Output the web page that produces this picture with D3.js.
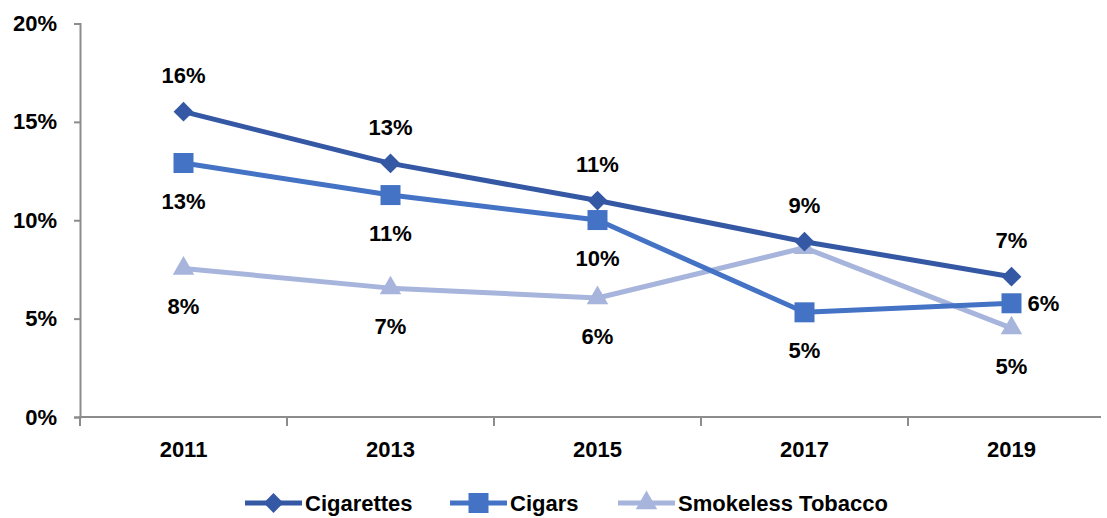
<!DOCTYPE html>
<html>
<head>
<meta charset="utf-8">
<script src="https://cdn.jsdelivr.net/npm/d3@7"></script>
<style>
  body { margin: 0; background: #fff; }
  svg text { font-family: "Liberation Sans", Arial, sans-serif; font-weight: bold; fill: #000; }
</style>
</head>
<body>
<div id="chart"></div>
<script>
// data
var years = ["2011", "2013", "2015", "2017", "2019"];
var cigarettes = [15.52, 12.89, 11.0, 8.91, 7.13];
var cigars = [12.91, 11.28, 10.01, 5.32, 5.78];
var smokeless = [7.55, 6.55, 6.05, 8.6, 4.52];
var yTicks = [0, 5, 10, 15, 20];
var seriesNames = ["Cigarettes", "Cigars", "Smokeless Tobacco"];
// label placement per point: "above", "below", "right" or null (no label)
var cigaretteLabels = ["above", "above", "above", "above", "above"];
var cigarLabels = ["below", "below", "below", "below", "right"];
var smokelessLabels = ["below", "below", "below", null, "below"];

var width = 1107, height = 518;

var svg = d3.select("#chart").append("svg")
    .attr("width", width)
    .attr("height", height);

var x = d3.scaleBand()
    .domain(years)
    .range([80, 1115]);

var y = d3.scaleLinear()
    .domain([0, 20])
    .range([417, 23.5]);

var axisColor = "#8c8c8c";

// y axis
var yAxis = svg.append("g")
    .attr("transform", "translate(80,0)")
    .call(d3.axisLeft(y).tickValues(yTicks).tickSize(6).tickPadding(17)
      .tickFormat(function(d) { return d + "%"; }));
yAxis.select(".domain").attr("stroke", axisColor).attr("stroke-width", 2);
yAxis.selectAll(".tick line").attr("stroke", axisColor).attr("stroke-width", 2);
yAxis.selectAll("text").style("font-size", "22px");

// x axis: labels centered in bands, tick marks at band boundaries
var xAxis = svg.append("g")
    .attr("transform", "translate(0,417)")
    .call(d3.axisBottom(x).tickSize(0).tickPadding(24));
xAxis.select(".domain").remove();
xAxis.selectAll("text").style("font-size", "22px");

svg.append("line")
    .attr("x1", 79).attr("x2", 1101)
    .attr("y1", y(0)).attr("y2", y(0))
    .attr("stroke", axisColor).attr("stroke-width", 2);

svg.append("g").selectAll("line")
    .data(years)
    .enter().append("line")
    .attr("x1", function(d) { return x(d); })
    .attr("x2", function(d) { return x(d); })
    .attr("y1", y(0))
    .attr("y2", y(0) + 9)
    .attr("stroke", axisColor)
    .attr("stroke-width", 2);

var series = [
  { name: seriesNames[0], values: cigarettes, labels: cigaretteLabels, color: "#3458a4", symbol: d3.symbolDiamond2, size: 250 },
  { name: seriesNames[1], values: cigars, labels: cigarLabels, color: "#4472c4", symbol: d3.symbolSquare, size: 400 },
  { name: seriesNames[2], values: smokeless, labels: smokelessLabels, color: "#a7b5dd", symbol: d3.symbolTriangle, size: 200 }
];

function cx(i) { return x(years[i]) + x.bandwidth() / 2; }

var line = d3.line()
    .x(function(d, i) { return cx(i); })
    .y(function(d) { return y(d); });

// draw the lighter series first so the darker ones sit on top
var order = [2, 1, 0];
order.forEach(function(k) {
  var s = series[k];
  var g = svg.append("g").attr("class", "series");

  g.append("path")
      .datum(s.values)
      .attr("d", line)
      .attr("fill", "none")
      .attr("stroke", s.color)
      .attr("stroke-width", 5)
      .attr("stroke-linejoin", "round");

  g.selectAll(".marker")
      .data(s.values)
      .enter().append("path")
      .attr("class", "marker")
      .attr("d", d3.symbol().type(s.symbol).size(s.size))
      .attr("transform", function(d, i) {
        return "translate(" + cx(i) + "," + y(d) + ")";
      })
      .attr("fill", s.color);
});

// data labels
series.forEach(function(s) {
  svg.append("g").selectAll("text")
      .data(s.values.map(function(v, i) { return { v: v, i: i, pos: s.labels[i] }; })
        .filter(function(d) { return d.pos; }))
      .enter().append("text")
      .attr("x", function(d) {
        return d.pos === "right" ? cx(d.i) + 16 : cx(d.i);
      })
      .attr("y", function(d) {
        if (d.pos === "above") return y(d.v) - 36;
        if (d.pos === "below") return y(d.v) + 38;
        return y(d.v);
      })
      .attr("dy", "0.35em")
      .attr("text-anchor", function(d) { return d.pos === "right" ? "start" : "middle"; })
      .style("font-size", "22px")
      .text(function(d) { return Math.round(d.v) + "%"; });
});

// legend
var legendStarts = [245, 450, 618];
var legend = svg.append("g").attr("transform", "translate(0,503)");
series.forEach(function(s, i) {
  var g = legend.append("g").attr("transform", "translate(" + legendStarts[i] + ",0)");
  g.append("line")
      .attr("x1", 0).attr("x2", 57)
      .attr("y1", 0).attr("y2", 0)
      .attr("stroke", s.color)
      .attr("stroke-width", 5);
  g.append("path")
      .attr("d", d3.symbol().type(s.symbol).size(s.size))
      .attr("transform", "translate(28.5,0)")
      .attr("fill", s.color);
  g.append("text")
      .attr("x", 60)
      .attr("y", 0)
      .attr("dy", "0.35em")
      .style("font-size", "22px")
      .text(s.name);
});
</script>
</body>
</html>
